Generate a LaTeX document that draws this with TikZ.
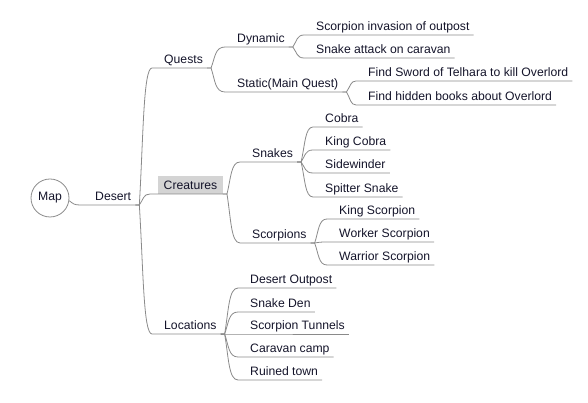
\documentclass[tikz,border=0pt]{standalone}
\usepackage{fontspec}
\setmainfont{Liberation Sans}
\usetikzlibrary{calc}
\definecolor{linecol}{HTML}{8a8a8a}
\definecolor{textcol}{HTML}{14142a}
\definecolor{selcol}{HTML}{d4d4d4}
\definecolor{ringcol}{HTML}{8c8c8c}
\tikzset{
  topic/.style={anchor=south west, inner xsep=4pt, inner ysep=2pt,
    text height=11.5pt, text depth=2.5pt,
    font=\fontsize{12.2}{14}\selectfont, text=textcol},
  link/.style={linecol, line width=0.8pt},
}

\begin{document}
\begin{tikzpicture}[x=1pt, y=1pt]
    \useasboundingbox (0,0) rectangle (588,403);
    \newcommand{\drawbranch}[2]{%
      \coordinate (j) at ([xshift=4pt]#1.south east);%
      \coordinate (e) at ([xshift=-8pt]#2.south west);%
      \draw[link] (#1.south east) -- (j)
        .. controls ($(j)!0.5!(j|-e)+(4pt,0)$) and ($(j|-e)+(4pt,0)$) .. (e)
        -- (#2.south east);%
    }
    % Root
    \node[circle, draw=ringcol, line width=0.8pt, fill=white, minimum size=38pt, inner sep=0pt,
      font=\fontsize{12.2}{14}\selectfont, text=textcol] (map) at (50,205) {Map};
    \node[topic] (desert) at (91,198) {Desert};
    \draw[link] (map.-8) .. controls +(4,-3) and +(-6,0) .. ([xshift=-11pt]desert.south west)
      -- (desert.south east);
    % Quests
    \node[topic] (quests) at (160,335) {Quests};
    \drawbranch{desert}{quests}
    \node[topic] (dynamic) at (233,356) {Dynamic};
    \node[topic] (static) at (233,311) {Static(Main Quest)};
    \drawbranch{quests}{dynamic}
    \drawbranch{quests}{static}
    \foreach \nm/\yy/\txt in {invasion/368/Scorpion invasion of outpost,
        attack/345/Snake attack on caravan}{
      \node[topic] (\nm) at (312,\yy) {\txt};
      \drawbranch{dynamic}{\nm}
    }
    \foreach \nm/\yy/\txt in {sword/322/Find Sword of Telhara to kill Overlord,
        books/298/Find hidden books about Overlord}{
      \node[topic] (\nm) at (364,\yy) {\txt};
      \drawbranch{static}{\nm}
    }
    % Creatures
    \node[topic, fill=selcol, inner xsep=5.5pt] (creatures) at (158,209) {Creatures};
    \drawbranch{desert}{creatures}
    \node[topic] (snakes) at (248,241) {Snakes};
    \node[topic] (scorpions) at (248,160) {Scorpions};
    \drawbranch{creatures}{snakes}
    \drawbranch{creatures}{scorpions}
    \foreach \nm/\yy/\txt in {cobra/276/Cobra, kingcobra/253/King Cobra,
        sidewinder/230/Sidewinder, spitter/206/Spitter Snake}{
      \node[topic] (\nm) at (321,\yy) {\txt};
      \drawbranch{snakes}{\nm}
    }
    \foreach \nm/\yy/\txt in {kingscorp/184/King Scorpion, worker/161/Worker Scorpion,
        warrior/138/Warrior Scorpion}{
      \node[topic] (\nm) at (335,\yy) {\txt};
      \drawbranch{scorpions}{\nm}
    }
    % Locations
    \node[topic] (locations) at (160,69) {Locations};
    \drawbranch{desert}{locations}
    \foreach \nm/\yy/\txt in {outpost/115/Desert Outpost, den/91/Snake Den,
        tunnels/69/Scorpion Tunnels, camp/46/Caravan camp, town/23/Ruined town}{
      \node[topic] (\nm) at (246,\yy) {\txt};
      \drawbranch{locations}{\nm}
    }
\end{tikzpicture}
\end{document}
